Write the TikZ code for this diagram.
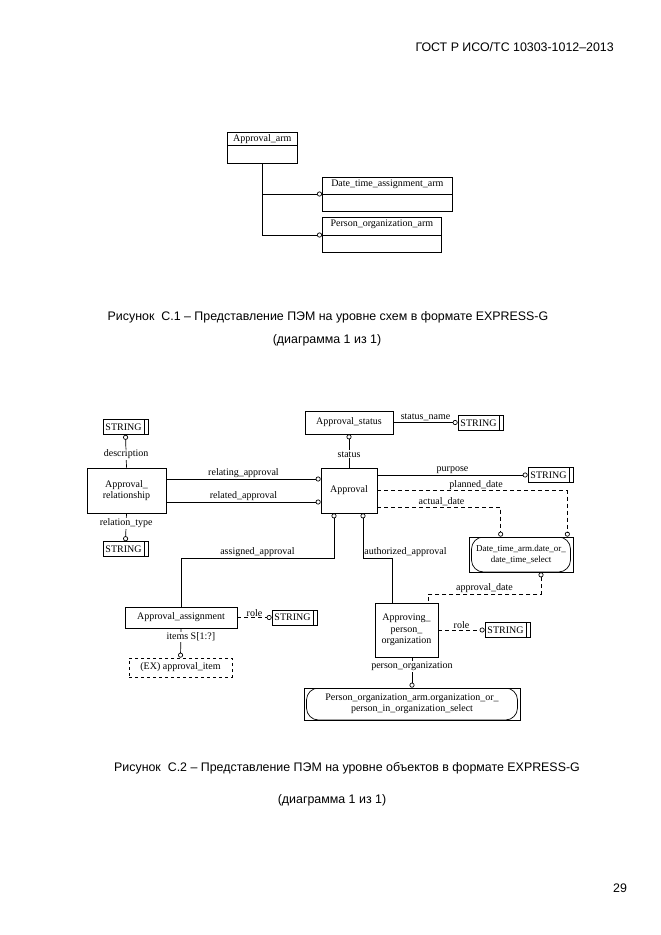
\documentclass[tikz,border=0pt]{standalone}
\usepackage{fontspec}
\setmainfont{Liberation Serif}
\newfontfamily\capfont{Liberation Sans}
\usepackage{tikz}
\usetikzlibrary{arrows.meta}

\tikzset{
  dtxt/.style={font=\fontsize{10}{11.5}\selectfont},
  lbl/.style={dtxt, inner sep=1pt},
  captxt/.style={font=\capfont\fontsize{12.4}{14}\selectfont, inner sep=0pt},
  ent/.style={draw, line width=0.7pt, inner sep=0pt, align=center, dtxt},
  strbox/.style={ent, minimum width=45pt, minimum height=15pt,
    execute at end node={\kern4pt},
    path picture={\draw[line width=0.7pt]
      ([xshift=-4pt]path picture bounding box.north east) --
      ([xshift=-4pt]path picture bounding box.south east);}},
  armbox/.style n args={2}{ent, anchor=north west,
    label={[dtxt, anchor=north, inner sep=0pt, yshift=-2.5pt]north:#2},
    path picture={\draw[line width=0.7pt]
      ([yshift=-#1]path picture bounding box.north west) --
      ([yshift=-#1]path picture bounding box.north east);}},
  selbox/.style={ent,
    path picture={\draw[line width=0.7pt, rounded corners=12pt]
      ([xshift=2.5pt]path picture bounding box.north west) rectangle
      ([xshift=-2.5pt]path picture bounding box.south east);}},
  exbox/.style={ent, dashed},
  link/.style={->, line width=0.7pt},
  dlink/.style={link, dash pattern=on 4pt off 3pt}
}

\begin{document}
\begin{tikzpicture}[x=1pt, y=-1pt, >={Circle[open,length=5pt]}]
\useasboundingbox (0,0) rectangle (661,935);
\fill[white] (0,0) rectangle (661,935);

\node[captxt, anchor=east] (head) at (614,47) {ГОСТ Р ИСО/ТС 10303-1012–2013};

% schema level
\node[armbox={13pt}{Approval\_arm}, minimum width=70pt, minimum height=31pt] (arm) at (227,132) {};
\node[armbox={17pt}{Date\_time\_assignment\_arm}, minimum width=130pt, minimum height=34pt] (dtarm) at (322,177) {};
\node[armbox={18pt}{Person\_organization\_arm}, minimum width=119pt, minimum height=35pt] (poarm) at (322,217) {};

\draw[link] (arm.south) |- ([yshift=-17pt]dtarm.north west);
\draw[link] (arm.south) |- ([yshift=-18pt]poarm.north west);

\node[captxt] (cap1a) at (328,317) {Рисунок\ \ С.1 – Представление ПЭМ на уровне схем в формате EXPRESS-G};
\node[captxt] (cap1b) at (327,340) {(диаграмма 1 из 1)};

% entity level
\node[strbox] (stra) at (125.5,427) {STRING};
\node[ent, minimum width=79pt, minimum height=45pt] (rel) at (126.5,490.5) {Approval\_\\relationship};
\node[strbox] (strb) at (125.5,549) {STRING};
\node[ent, minimum width=88pt, minimum height=23pt] (stat) at (349,422.5) {Approval\_status};
\node[strbox] (strc) at (480.5,423) {STRING};
\node[ent, minimum width=56pt, minimum height=45pt] (appr) at (349,490.5) {Approval};
\node[strbox] (strd) at (550.5,475) {STRING};
\node[selbox, minimum width=104pt, minimum height=35pt, font=\fontsize{9}{11}\selectfont] (dt) at (521,554.5) {Date\_time\_arm.date\_or\_\\date\_time\_select};
\node[ent, minimum width=112pt, minimum height=21pt] (asgn) at (181,617.5) {Approval\_assignment};
\node[strbox] (stre) at (294.5,617.5) {STRING};
\node[exbox, minimum width=103pt, minimum height=19pt] (ex) at (180.5,667.5) {(EX) approval\_item};
\node[ent, minimum width=63pt, minimum height=54pt] (apo) at (406.5,630) {Approving\_\\person\_\\organization};
\node[strbox] (strf) at (507.5,630) {STRING};
\node[selbox, minimum width=216pt, minimum height=32pt] (po) at (412,704) {Person\_organization\_arm.organization\_or\_\\person\_in\_organization\_select};

\draw[link] (rel.north) -- node[lbl, fill=white, pos=0.4] {description} (stra.south);
\draw[link] (rel.south) -- node[lbl, fill=white, pos=0.35] {relation\_type} (strb.north);
\draw[link] ([yshift=11.5pt]rel.east) -- node[lbl, above] {relating\_approval} ([yshift=11.5pt]appr.west);
\draw[link] ([yshift=-11.5pt]rel.east) -- node[lbl, above] {related\_approval} ([yshift=-11.5pt]appr.west);
\draw[link] (appr.north) -- node[lbl, fill=white, pos=0.4] {status} (stat.south);
\draw[link] (stat.east) -- node[lbl, above] {status\_name} (stat.east -| strc.west);
\draw[link] (appr.east |- strd.west) -- node[lbl, above] {purpose} (strd.west);
\draw[dlink] (appr.east) -| node[lbl, pos=0.26, above] {planned\_date} ([xshift=-6pt]dt.north east);
\draw[dlink] ([yshift=-16.5pt]appr.east) -| node[lbl, pos=0.26, above] {actual\_date} ([xshift=32pt]dt.north west);
\draw[dlink, <-] ([xshift=20pt]dt.south) -- ++(0,22) -- node[lbl, above] {approval\_date} ++(-113,0) -- ([xshift=21.5pt]apo.north);
\draw[link, <-] ([xshift=14pt]appr.south) -- ++(0,45) node[lbl, anchor=south west] {authorized\_approval} -- ++(29,0) -- ([xshift=-14.5pt]apo.north);
\draw[link, <-] ([xshift=-15pt]appr.south) -- ++(0,45) -- node[lbl, above] {assigned\_approval} ++(-153,0) -- (asgn.north);
\draw[dlink] (asgn.east) -- node[lbl, above] {role} (stre.west);
\draw[link] (asgn.south) -- node[lbl, fill=white, pos=0.3, xshift=10pt] {items S[1:?]} (ex.north);
\draw[dlink] (apo.east) -- node[lbl, above] {role} (strf.west);
\draw[link] (apo.south -| po.north) -- node[lbl, fill=white, pos=0.3] {person\_organization} (po.north);

\node[captxt] (cap2a) at (347,768) {Рисунок\ \ С.2 – Представление ПЭМ на уровне объектов в формате EXPRESS-G};
\node[captxt] (cap2b) at (332,800) {(диаграмма 1 из 1)};

\node[captxt] (page) at (620,888) {29};
\end{tikzpicture}
\end{document}
